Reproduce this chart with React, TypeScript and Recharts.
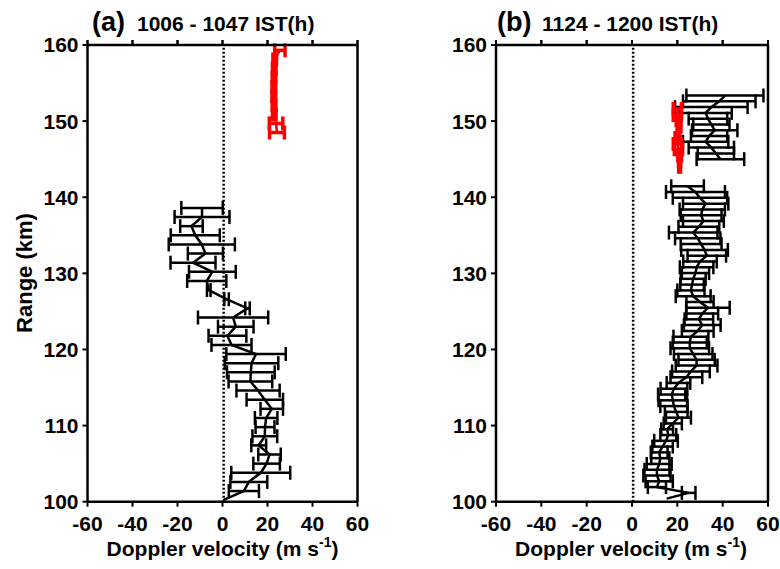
import React from 'react';
import { ScatterChart, Scatter, XAxis, YAxis, ErrorBar, ReferenceLine } from 'recharts';

const FONT = '"Liberation Sans", Arial, Helvetica, sans-serif';

// ---- Tick labels ----
const xTicks = [-60, -40, -20, 0, 20, 40, 60];
const yTicks = [100, 110, 120, 130, 140, 150, 160];

// ---- Panel (a) 1006 - 1047 IST : black profile ----
const rangeA = [100.2, 101.4, 102.6, 103.8, 105.0, 106.2, 107.4, 108.6, 109.8, 111.0, 112.2, 113.4, 114.6, 115.8, 117.0, 118.2, 119.4, 120.6, 121.8, 123.0, 124.2, 125.4, 126.6, 127.8, 129.0, 130.2, 131.4, 132.6, 133.8, 135.0, 136.2, 137.4, 138.6];
const velA = [0.3, 9.5, 11.7, 17.0, 19.6, 20.9, 16.1, 18.8, 18.9, 19.4, 21.9, 18.8, 15.8, 12.4, 12.6, 12.9, 14.9, 4.0, 2.2, 5.9, 4.7, 11.1, 1.8, -6.1, -7.0, -4.5, -13.1, -7.6, -9.2, -12.1, -13.8, -9.1, -9.1];
const errA = [0, 6.7, 8.2, 13.1, 5.9, 5.0, 3.3, 5.5, 4.2, 5.0, 5.0, 8.1, 9.6, 9.7, 10.6, 11.9, 13.2, 8.9, 8.4, 7.9, 15.6, 1.0, 1.0, 0.8, 8.7, 10.4, 10.0, 7.8, 14.7, 10.9, 5.0, 12.2, 9.2];

// ---- Panel (a) : red profile ----
const rangeARed = [148.5, 149.7, 150.9, 152.1, 153.3, 154.5, 155.7, 156.9, 158.1, 159.3];
const velARed = [24.2, 23.8, 23.0, 22.9, 22.8, 22.8, 22.9, 23.0, 23.2, 25.5];
const errARed = [3.3, 3.0, 0.8, 0.8, 0.8, 0.8, 0.8, 0.8, 0.8, 2.3];

// ---- Panel (b) 1124 - 1200 IST : black lower profile ----
const rangeB = [100.40, 101.16, 101.92, 102.68, 103.44, 104.20, 104.96, 105.72, 106.48, 107.24, 108.00, 108.76, 109.52, 110.28, 111.04, 111.80, 112.56, 113.32, 114.08, 114.84, 115.60, 116.36, 117.12, 117.88, 118.64, 119.40, 120.16, 120.92, 121.68, 122.44, 123.20, 123.96, 124.72, 125.48, 126.24, 127.00, 127.76, 128.52, 129.28, 130.04, 130.80, 131.56, 132.32, 133.08, 133.84, 134.60, 135.36, 136.12, 136.88, 137.64, 138.40, 139.16, 139.92, 140.68, 141.44];
const velB = [15.3, 25, 11, 12, 11, 11, 12, 12.5, 12, 13.5, 15, 16, 15.5, 18, 20.5, 19.5, 18.5, 18, 17.5, 18.5, 20.5, 24, 26, 28.5, 28.5, 27, 25.5, 25.5, 26, 29, 31, 29.5, 31, 33.5, 30, 27, 26, 26.5, 27, 28, 28.5, 30, 33, 32, 30.5, 29, 27, 29.5, 31.5, 30.5, 31, 32.5, 30, 28, 24.5];
const errB = [0, 3, 4, 6, 6, 5.5, 5.5, 4, 3.7, 4.5, 5.2, 3.5, 2.6, 4, 5.5, 5, 6, 6.3, 6, 5.9, 5.2, 7, 8.3, 9.2, 8, 8.5, 8.5, 7.5, 7.7, 7, 8.1, 6.3, 7, 9.6, 6, 7.7, 6, 5.2, 5.5, 6, 7.4, 7.4, 8.5, 10.3, 9, 10, 10.7, 9, 9, 9, 10, 10, 12, 13, 7.2];

// ---- Panel (b) : black upper cluster ----
const rangeBTop = [145.0, 145.76, 146.52, 147.28, 148.04, 148.8, 149.56, 150.32, 151.08, 151.84, 152.6, 153.36];
const velBTop = [39, 37, 35, 32.5, 34, 36.5, 35, 33.5, 32.5, 35, 38.5, 41];
const errBTop = [10.5, 8, 10, 10, 8, 10, 8, 8.5, 11.5, 16, 16, 17];

// ---- Panel (b) : red profile ----
const rangeBRed = [144.0, 144.8, 145.5, 146.3, 147.0, 147.8, 148.6, 149.3, 150.1, 150.8, 151.6];
const velBRed = [21, 21, 21, 20.5, 20, 20, 20.5, 21, 20.5, 20, 20];
const errBRed = [0.4, 0.5, 0.8, 1.8, 1.8, 1.0, 0.6, 0.6, 1.0, 1.8, 1.8];

type Pt = { v: number; r: number; e: number };
const toPts = (r: number[], v: number[], e: number[]): Pt[] =>
  r.map((rr, i) => ({ r: rr, v: v[i], e: e[i] }));

type Series = { pts: Pt[]; color: string; sw: number };

const seriesA: Series[] = [
  { pts: toPts(rangeA, velA, errA), color: '#000000', sw: 2.5 },
  { pts: toPts(rangeARed, velARed, errARed), color: '#ff0000', sw: 3.5 },
];
const seriesB: Series[] = [
  { pts: toPts(rangeB, velB, errB), color: '#000000', sw: 2.5 },
  { pts: toPts(rangeBTop, velBTop, errBTop), color: '#000000', sw: 2.5 },
  { pts: toPts(rangeBRed, velBRed, errBRed), color: '#ff0000', sw: 3.5 },
];

const Empty = () => <g />;

const tickStyle = { fontFamily: FONT, fontSize: 21, fontWeight: 700, fill: '#000' };
const axisStroke = { stroke: '#000', strokeWidth: 2.5 };
const tickStroke = { stroke: '#000', strokeWidth: 2 };

// top-axis tick: only the short outward tick mark, placed by the axis itself
const TopTick = (p: any) => (
  <line x1={p.x} x2={p.x} y1={p.y} y2={p.y + 5} stroke="#000" strokeWidth={2} />
);

function Panel({ left, width, margin, series }: { left: number; width: number; margin: any; series: Series[] }) {
  return (
    <div style={{ position: 'absolute', left, top: 0 }}>
      <ScatterChart width={width} height={569} margin={margin}>
        <XAxis
          type="number"
          dataKey="v"
          domain={[-60, 60]}
          ticks={xTicks}
          interval={0}
          height={30}
          tickSize={5}
          tickMargin={9}
          tick={tickStyle}
          axisLine={axisStroke}
          tickLine={tickStroke}
          allowDataOverflow
        />
        <XAxis
          xAxisId="top"
          orientation="top"
          type="number"
          dataKey="v"
          domain={[-60, 60]}
          ticks={xTicks}
          interval={0}
          height={20}
          tickSize={5}
          tickMargin={0}
          tick={TopTick}
          axisLine={axisStroke}
          tickLine={tickStroke}
          allowDataOverflow
        />
        <YAxis
          type="number"
          dataKey="r"
          domain={[100, 160]}
          ticks={yTicks}
          interval={0}
          width={60}
          tickSize={5}
          tickMargin={4}
          tick={tickStyle}
          axisLine={axisStroke}
          tickLine={tickStroke}
          allowDataOverflow
        />
        <YAxis
          yAxisId="right"
          orientation="right"
          type="number"
          dataKey="r"
          domain={[100, 160]}
          ticks={yTicks}
          width={1}
          tick={false}
          tickLine={false}
          axisLine={axisStroke}
          allowDataOverflow
        />
        <ReferenceLine x={0.5} stroke="#000" strokeWidth={2.5} strokeDasharray="2 2" />
        {/* hidden series so the top / right frame axes are rendered */}
        <Scatter
          xAxisId="top"
          yAxisId="right"
          data={series[0].pts}
          shape={Empty}
          isAnimationActive={false}
        />
        {series.map((s, i) => (
          <Scatter
            key={'l' + i}
            data={s.pts}
            line={{ stroke: s.color, strokeWidth: 2.5 }}
            shape={Empty}
            isAnimationActive={false}
          />
        ))}
        {series.map((s, i) => (
          <Scatter key={'e' + i} data={s.pts.filter((p) => p.e > 0)} shape={Empty} isAnimationActive={false}>
            <ErrorBar dataKey="e" direction="x" width={7} stroke={s.color} strokeWidth={s.sw} isAnimationActive={false} />
          </Scatter>
        ))}
      </ScatterChart>
    </div>
  );
}

function Titles() {
  const bold = { fontFamily: FONT, fontWeight: 700, fill: '#000' } as const;
  return (
    <svg width={780} height={569} style={{ position: 'absolute', left: 0, top: 0, pointerEvents: 'none' }}>
      <text x={92} y={31} fontSize={27} {...bold}>(a)</text>
      <text x={137} y={31} fontSize={21} {...bold}>1006 - 1047 IST(h)</text>
      <text x={497} y={31} fontSize={27} {...bold}>(b)</text>
      <text x={542} y={31} fontSize={21} {...bold}>1124 - 1200 IST(h)</text>
      <text transform="translate(32,273) rotate(-90)" textAnchor="middle" fontSize={22} {...bold}>Range (km)</text>
      <text x={222.5} y={556} textAnchor="middle" fontSize={21} {...bold}>
        Doppler velocity (m s<tspan fontSize={14} dy={-9}>-1</tspan><tspan dy={9}>)</tspan>
      </text>
      <text x={631} y={556} textAnchor="middle" fontSize={21} {...bold}>
        Doppler velocity (m s<tspan fontSize={14} dy={-9}>-1</tspan><tspan dy={9}>)</tspan>
      </text>
    </svg>
  );
}

export default function App() {
  return (
    <div style={{ position: 'absolute', left: 0, top: 0, width: 780, height: 569, background: '#fff', overflow: 'hidden' }}>
      <Panel
        left={0}
        width={390}
        margin={{ top: 25, right: 31.5, bottom: 37.3, left: 27.5 }}
        series={seriesA}
      />
      <Panel
        left={400}
        width={380}
        margin={{ top: 25, right: 11, bottom: 37.3, left: 36 }}
        series={seriesB}
      />
      <Titles />
    </div>
  );
}
